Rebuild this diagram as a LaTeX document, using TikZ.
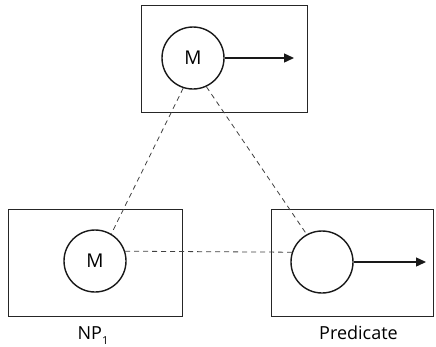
\documentclass[tikz,border=0pt]{standalone}
\usepackage{fontspec}
\setmainfont{Open Sans}
\usetikzlibrary{arrows.meta}
\begin{document}
\begin{tikzpicture}[x=1pt,y=-1pt,
  frame/.style={draw=black!85,line width=0.9pt},
  unit/.style={circle,draw=black!90,line width=1.4pt,minimum size=62pt,inner sep=0pt,font=\fontsize{19}{21}\selectfont},
  link/.style={draw=black!75,line width=0.8pt,dash pattern=on 5pt off 4pt},
  outarrow/.style={draw=black!90,line width=1.4pt,-{Triangle[length=10pt,width=9pt]}},
  caption/.style={font=\fontsize{18}{20}\selectfont,anchor=base}]
\useasboundingbox (0,0) rectangle (436,346);
% frames
\draw[frame] (141,5) rectangle (307,112);
\draw[frame] (8,209) rectangle (182,316);
\draw[frame] (271,209) rectangle (433,316);
% units
\node[unit] (top) at (193,58) {M};
\node[unit] (np) at (95,261) {M};
\node[unit] (pred) at (322,262) {};
% arrow tips leaving the units
\coordinate (topend) at (294,58);
\coordinate (predend) at (426,262);
\draw[outarrow] (top.east) -- (topend);
\draw[outarrow] (pred.east) -- (predend);
% dashed links
\draw[link] (top.-108) -- (np.59);
\draw[link] (top.-65) -- (pred.119);
\draw[link] (np.18) -- (pred.162);
% captions
\node[caption] (nplab) at (93,339) {NP\raisebox{-5pt}{\fontsize{11}{12}\selectfont 1}};
\node[caption] (predlab) at (358.5,339) {Predicate};
\end{tikzpicture}
\end{document}
